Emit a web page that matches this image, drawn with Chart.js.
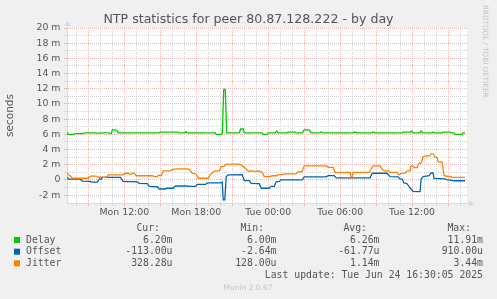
<!DOCTYPE html>
<html>
<head>
<meta charset="utf-8">
<script src="https://cdn.jsdelivr.net/npm/chart.js@4.4.0/dist/chart.umd.min.js"></script>
<style>
  html, body { margin: 0; padding: 0; background: #f0f0f0; }
  #wrap { width: 497px; height: 299px; }
</style>
</head>
<body>
<div id="wrap"><canvas id="ntpChart" width="497" height="299"></canvas></div>
<script>
// colores estilo munin
const COLORS = {
    delay: "#00cc00",
    offset: "#0066b3",
    jitter: "#ff8000",
    text: "#555555",
    gridMinor: "#d6d6d6",
    gridMajor: "#ebb8b8",
    axis: "#cfd6f8",
    faint: "#c4c4c4"
};

// horas desde Mon 00:00, valores en milisegundos (m)
const delayHours = [7.25, 7.33, 7.75, 7.92, 8.58, 8.67, 9.58, 9.67, 10.08, 10.17, 10.75, 10.83, 10.92, 11.0, 11.25, 11.42, 11.5,
    14.92, 15.0, 16.5, 16.58, 17.0, 17.13, 17.25, 19.58, 19.67, 20.08, 20.17, 20.29, 20.42, 20.54, 21.58, 21.71, 21.92, 22.0,
    23.5, 23.58, 23.92, 24.0, 24.58, 24.71, 24.83, 25.58, 25.67, 26.25, 26.33, 26.83, 27.0, 27.42, 27.58, 28.33, 28.42, 28.58,
    31.08, 31.17, 31.42, 32.67, 32.75, 32.92, 35.17, 35.25, 35.83, 35.96, 36.08, 36.67, 36.75, 36.88, 37.67, 37.75, 37.83,
    38.5, 38.58, 39.17, 39.25, 39.5, 39.58, 40.17, 40.25, 40.42];
const delayValues = [6.25, 6.0, 6.0, 6.1, 6.1, 6.2, 6.2, 6.15, 6.15, 6.2, 6.2, 6.1, 6.1, 6.6, 6.6, 6.45, 6.2,
    6.2, 6.3, 6.3, 6.2, 6.2, 6.35, 6.2, 6.2, 6.0, 6.0, 6.1, 11.91, 11.91, 6.2, 6.2, 6.7, 6.7, 6.2,
    6.2, 6.0, 6.0, 6.2, 6.2, 6.45, 6.2, 6.2, 6.3, 6.3, 6.2, 6.2, 6.6, 6.6, 6.2, 6.2, 6.3, 6.2,
    6.2, 6.3, 6.2, 6.2, 6.3, 6.2, 6.2, 6.3, 6.3, 6.45, 6.2, 6.2, 6.45, 6.2, 6.2, 6.3, 6.2,
    6.2, 6.3, 6.3, 6.2, 6.2, 6.0, 6.0, 6.2, 6.2];

const offsetHours = [7.25, 7.33, 8.33, 8.5, 9.17, 9.25, 9.75, 9.92, 10.08, 10.17, 11.67, 11.92, 13.08, 13.25, 13.92, 14.08,
    14.75, 14.92, 15.42, 15.5, 16.08, 16.25, 17.25, 17.42, 17.92, 18.08, 18.75, 18.92, 20.0, 20.17, 20.25, 20.38, 20.5,
    20.67, 21.83, 22.0, 22.42, 22.58, 23.25, 23.42, 24.08, 24.25, 24.5, 24.67, 24.92, 25.08, 26.83, 27.0, 28.83, 29.0,
    29.5, 29.67, 32.5, 32.67, 33.92, 34.17, 34.83, 35.0, 35.17, 35.33, 35.58, 35.75, 35.92, 36.08, 36.67, 36.75, 36.92,
    37.42, 37.58, 37.75, 37.83, 38.75, 38.92, 39.33, 39.5, 40.42];
const offsetValues = [0.35, 0.1, 0.1, -0.15, -0.2, -0.3, -0.3, 0.1, 0.1, 0.33, 0.33, -0.2, -0.25, -0.45, -0.5, -0.85,
    -0.9, -1.2, -1.2, -1.1, -1.1, -0.8, -0.8, -0.85, -0.85, -0.6, -0.6, -0.4, -0.4, -0.3, -2.64, -2.64, 0.45,
    0.66, 0.7, -0.1, -0.1, -0.45, -0.5, -1.1, -1.1, -0.85, -0.85, -0.25, -0.2, 0.0, 0.0, 0.4, 0.4, 0.57,
    0.57, 0.26, 0.26, 0.88, 0.88, 0.44, 0.4, 0.13, 0.1, -0.4, -0.5, -0.88, -1.2, -1.5, -1.55, 0.1, 0.45,
    0.55, 0.91, 0.91, 0.2, 0.15, 0.0, -0.05, -0.113, -0.113];

const jitterHours = [7.25, 7.42, 7.58, 7.67, 9.0, 9.17, 9.67, 9.83, 10.5, 10.67, 11.92, 12.0, 12.33, 12.42, 12.58, 12.67,
    12.83, 13.0, 14.33, 14.5, 14.75, 14.83, 15.08, 15.25, 15.83, 16.0, 16.33, 17.33, 17.5, 17.67, 18.0, 18.17, 19.0,
    19.17, 19.33, 19.5, 19.92, 20.08, 20.33, 20.5, 21.67, 21.92, 22.17, 22.33, 22.67, 22.92, 23.08, 23.33, 23.5, 23.67,
    24.17, 24.33, 24.67, 24.83, 25.17, 25.33, 26.33, 26.5, 26.83, 27.0, 28.83, 29.0, 29.42, 29.58, 30.83, 30.92, 31.0,
    31.08, 32.42, 32.58, 32.75, 33.33, 33.5, 33.67, 34.0, 34.17, 34.75, 34.92, 35.08, 35.42, 35.58, 35.83, 35.92, 36.08,
    36.17, 36.42, 36.58, 36.75, 36.92, 37.17, 37.5, 37.58, 37.75, 37.92, 38.08, 38.17, 38.5, 38.67, 39.0, 39.17, 39.33, 40.42];
const jitterValues = [0.85, 0.6, 0.4, 0.22, 0.22, 0.5, 0.5, 0.35, 0.35, 0.66, 0.66, 0.88, 0.88, 0.75, 0.75, 0.9,
    0.9, 0.55, 0.55, 0.44, 0.44, 0.6, 0.6, 1.2, 1.2, 1.35, 1.45, 1.45, 1.25, 0.85, 0.75, 0.22, 0.22,
    0.7, 0.9, 1.2, 1.2, 1.75, 1.8, 2.07, 2.07, 1.75, 1.45, 1.15, 1.2, 1.1, 1.2, 1.1, 1.0, 0.44,
    0.45, 0.55, 0.55, 0.7, 0.7, 0.8, 0.8, 1.1, 1.1, 1.85, 1.85, 1.65, 1.65, 1.0, 1.0, 0.3, 0.3,
    1.0, 1.0, 1.4, 1.85, 1.85, 1.4, 1.2, 1.2, 1.0, 1.0, 0.66, 0.85, 0.88, 1.2, 1.2, 1.85, 1.85,
    1.63, 1.63, 2.2, 2.2, 3.05, 3.15, 3.2, 3.44, 3.44, 3.0, 2.95, 2.4, 2.35, 0.55, 0.45, 0.45, 0.328, 0.328];

// ejes
const xStartHour = 7.22;
const xEndHour = 40.58;
const xTickHours = [12, 18, 24, 30, 36];
const xTickLabels = ["Mon 12:00", "Mon 18:00", "Tue 00:00", "Tue 06:00", "Tue 12:00"];
const yTickValues = [-2, 0, 2, 4, 6, 8, 10, 12, 14, 16, 18, 20];
const yTickLabels = ["-2 m", "0", "2 m", "4 m", "6 m", "8 m", "10 m", "12 m", "14 m", "16 m", "18 m", "20 m"];

// leyenda
const chartTitle = "NTP statistics for peer 80.87.128.222 - by day";
const seriesNames = ["Delay", "Offset", "Jitter"];
const seriesColors = [COLORS.delay, COLORS.offset, COLORS.jitter];
const curValues = ["6.20m", "-113.00u", "328.28u"];
const minValues = ["6.00m", "-2.64m", "128.00u"];
const avgValues = ["6.26m", "-61.77u", "1.14m"];
const maxValues = ["11.91m", "910.00u", "3.44m"];
const lastUpdate = "Last update: Tue Jun 24 16:30:05 2025";

function toPoints(hours, values) {
    return hours.map((h, i) => ({ x: h, y: values[i] }));
}

// fondo blanco del area, titulo, flechas, leyenda y textos de munin
const muninDecor = {
    id: "muninDecor",
    beforeDraw(chart) {
        const { ctx, chartArea: a } = chart;
        ctx.save();
        ctx.fillStyle = "#ffffff";
        ctx.fillRect(a.left, a.top, a.right - a.left, a.bottom - a.top);
        ctx.restore();
    },
    afterDraw(chart) {
        const { ctx, chartArea: a } = chart;
        ctx.save();
        // titulo centrado en el lienzo
        ctx.font = '12.6px "DejaVu Sans"';
        ctx.fillStyle = COLORS.text;
        ctx.textAlign = "center";
        ctx.textBaseline = "middle";
        ctx.fillText(chartTitle, chart.width / 2, 19.5);

        // flechas de los ejes
        ctx.strokeStyle = COLORS.axis;
        ctx.fillStyle = COLORS.axis;
        ctx.lineWidth = 1;
        ctx.beginPath();
        ctx.moveTo(a.right, a.bottom + 0.5);
        ctx.lineTo(a.right + 3, a.bottom + 0.5);
        ctx.moveTo(a.left + 0.5, a.top);
        ctx.lineTo(a.left + 0.5, a.top - 3);
        ctx.stroke();
        ctx.beginPath();
        ctx.moveTo(a.right + 2, a.bottom - 2.5);
        ctx.lineTo(a.right + 7, a.bottom + 0.5);
        ctx.lineTo(a.right + 2, a.bottom + 3.5);
        ctx.closePath();
        ctx.fill();
        ctx.beginPath();
        ctx.moveTo(a.left - 2.5, a.top - 2);
        ctx.lineTo(a.left + 0.5, a.top - 7);
        ctx.lineTo(a.left + 3.5, a.top - 2);
        ctx.closePath();
        ctx.fill();

        // leyenda
        ctx.font = '9.8px "DejaVu Sans Mono"';
        ctx.textBaseline = "middle";
        ctx.fillStyle = COLORS.text;
        ctx.textAlign = "right";
        const headY = 228;
        ctx.fillText("Cur:", 160, headY);
        ctx.fillText("Min:", 264, headY);
        ctx.fillText("Avg:", 367, headY);
        ctx.fillText("Max:", 471, headY);
        const rowY = [240, 251.7, 263.3];
        seriesNames.forEach((name, i) => {
            const y = rowY[i];
            ctx.fillStyle = seriesColors[i];
            ctx.fillRect(14, y - 3, 6, 6);
            ctx.fillStyle = COLORS.text;
            ctx.textAlign = "left";
            ctx.fillText(name, 26, y);
            ctx.textAlign = "right";
            ctx.fillText(curValues[i], 172.5, y);
            ctx.fillText(minValues[i], 276.5, y);
            ctx.fillText(avgValues[i], 379.5, y);
            ctx.fillText(maxValues[i], 483, y);
        });
        ctx.fillText(lastUpdate, 483, 275.3);

        ctx.font = '7.5px "DejaVu Sans"';
        ctx.fillStyle = COLORS.faint;
        ctx.textAlign = "center";
        ctx.fillText("Munin 2.0.67", 248, 288.5);

        // marca de rrdtool a la derecha
        ctx.translate(484.5, 5);
        ctx.rotate(Math.PI / 2);
        ctx.textAlign = "left";
        ctx.font = '7.2px "DejaVu Sans"';
        ctx.fillText("RRDTOOL / TOBI OETIKER", 0, 0);
        ctx.restore();
    }
};

document.addEventListener("DOMContentLoaded", function () {
    const canvas = document.getElementById("ntpChart");

    new Chart(canvas, {
        type: "line",
        data: {
            datasets: [
                { label: "Delay", data: toPoints(delayHours, delayValues), borderColor: COLORS.delay, order: 3 },
                { label: "Offset", data: toPoints(offsetHours, offsetValues), borderColor: COLORS.offset, order: 2 },
                { label: "Jitter", data: toPoints(jitterHours, jitterValues), borderColor: COLORS.jitter, order: 1 }
            ]
        },
        options: {
            responsive: false,
            animation: false,
            devicePixelRatio: 1,
            elements: {
                line: { borderWidth: 1.3, tension: 0, fill: false },
                point: { radius: 0 }
            },
            layout: { padding: { left: 0, right: 30, top: 28, bottom: 78 } },
            scales: {
                x: {
                    type: "linear",
                    min: xStartHour,
                    max: xEndHour,
                    afterBuildTicks: scale => {
                        const ticks = [];
                        for (let h = 8; h <= 40; h++) ticks.push({ value: h });
                        scale.ticks = ticks;
                    },
                    afterFit: scale => { scale.height = 18; },
                    grid: {
                        color: c => (c.tick && c.tick.value % 3 === 0) ? COLORS.gridMajor : COLORS.gridMinor,
                        tickLength: 3,
                        tickBorderDash: []
                    },
                    border: { color: COLORS.axis, width: 1, dash: [1, 1] },
                    ticks: {
                        autoSkip: false,
                        maxRotation: 0,
                        padding: 1,
                        color: COLORS.text,
                        font: { family: "DejaVu Sans", size: 9.4 },
                        callback: value => {
                            const i = xTickHours.indexOf(value);
                            return i >= 0 ? xTickLabels[i] : "";
                        }
                    }
                },
                y: {
                    type: "linear",
                    min: -3.04,
                    max: 20,
                    afterBuildTicks: scale => {
                        const ticks = [];
                        for (let v = -2; v <= 20; v++) ticks.push({ value: v });
                        scale.ticks = ticks;
                    },
                    afterFit: scale => { scale.width = 67; },
                    grid: {
                        color: c => (c.tick && c.tick.value % 2 === 0) ? COLORS.gridMajor : COLORS.gridMinor,
                        tickLength: 3,
                        tickBorderDash: []
                    },
                    border: { color: COLORS.axis, width: 1, dash: [1, 1] },
                    title: {
                        display: true,
                        text: "seconds",
                        color: COLORS.text,
                        font: { family: "DejaVu Sans", size: 10.5 },
                        padding: { top: 4, bottom: 0 }
                    },
                    ticks: {
                        autoSkip: false,
                        padding: 3.5,
                        color: COLORS.text,
                        font: { family: "DejaVu Sans", size: 9.4 },
                        callback: value => {
                            const i = yTickValues.indexOf(value);
                            return i >= 0 ? yTickLabels[i] : "";
                        }
                    }
                }
            },
            plugins: {
                legend: { display: false },
                tooltip: { enabled: false },
                title: { display: false }
            }
        },
        plugins: [muninDecor]
    });
});
</script>
</body>
</html>
